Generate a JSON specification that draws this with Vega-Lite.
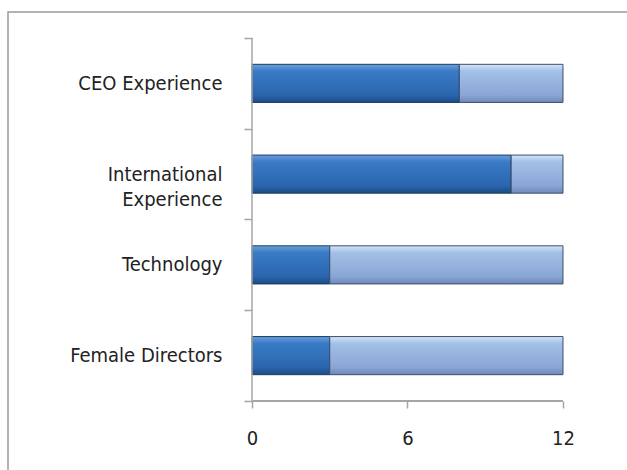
{
  "$schema": "https://vega.github.io/schema/vega-lite/v6.json",
  "autosize": "none",
  "width": 632,
  "height": 468,
  "padding": {"left": 8, "top": 12, "right": -13, "bottom": -10},
  "background": "white",
  "config": {
    "view": {"stroke": "#9a9a9a", "strokeWidth": 1.5},
    "font": "DejaVu Sans Condensed, Liberation Sans, sans-serif",
    "axis": {"labelFont": "DejaVu Sans Condensed, Liberation Sans, sans-serif", "labelColor": "#222222", "domain": false, "tickColor": "#a6a6a6", "tickWidth": 1.5, "grid": false, "title": null}
  },
  "data": {
    "values": [
      {"category": "CEO Experience", "yes": 8, "total": 12},
      {"category": "International Experience", "yes": 10, "total": 12},
      {"category": "Technology", "yes": 3, "total": 12},
      {"category": "Female Directors", "yes": 3, "total": 12}
    ]
  },
  "encoding": {
    "y": {
      "field": "category",
      "type": "nominal",
      "sort": ["CEO Experience", "International Experience", "Technology", "Female Directors"],
      "scale": {"paddingInner": 0, "paddingOuter": 0.5785, "align": 0.2476},
      "axis": {
        "offset": -244,
        "labelFontSize": 20,
        "labelPadding": 22,
        "tickSize": 8,
        "tickBand": "extent",
        "labelLineHeight": 25,
        "labelExpr": "datum.value == 'International Experience' ? ['International', 'Experience'] : datum.label"
      }
    }
  },
  "layer": [
    {
      "mark": {
        "type": "bar",
        "height": {"band": 0.42},
        "stroke": "#1f3a5c",
        "strokeWidth": 1,
        "color": {"gradient": "linear", "x1": 0, "y1": 0, "x2": 0, "y2": 1, "stops": [
          {"offset": 0, "color": "#6aa0dc"},
          {"offset": 0.18, "color": "#3a7bc6"},
          {"offset": 0.8, "color": "#2a66ae"},
          {"offset": 1, "color": "#1c4b86"}
        ]}
      },
      "encoding": {
        "x": {
          "field": "yes",
          "type": "quantitative",
          "scale": {"domain": [-9.4148, 14.9711], "nice": false, "zero": false},
          "axis": {"values": [0, 6, 12], "offset": -79, "labelFontSize": 20, "labelPadding": 20, "tickSize": 7, "labelFlush": false}
        }
      }
    },
    {
      "mark": {
        "type": "bar",
        "height": {"band": 0.42},
        "stroke": "#3b4f6e",
        "strokeWidth": 1,
        "color": {"gradient": "linear", "x1": 0, "y1": 0, "x2": 0, "y2": 1, "stops": [
          {"offset": 0, "color": "#d2e6f8"},
          {"offset": 0.18, "color": "#a3c0e6"},
          {"offset": 0.8, "color": "#8aa6d6"},
          {"offset": 1, "color": "#6f89b8"}
        ]}
      },
      "encoding": {
        "x": {"field": "yes", "type": "quantitative"},
        "x2": {"field": "total"}
      }
    },
    {
      "mark": {"type": "bar", "height": {"band": 1}, "fill": null, "fillOpacity": 0, "stroke": "#a6a6a6", "strokeWidth": 1.5},
      "encoding": {
        "x": {"datum": 0, "type": "quantitative"},
        "x2": {"datum": 0}
      }
    },
    {
      "mark": {"type": "rule", "color": "#a6a6a6", "strokeWidth": 1.5},
      "encoding": {
        "x": {"datum": 0, "type": "quantitative"},
        "x2": {"datum": 12},
        "y": {"datum": "Female Directors", "bandPosition": 1}
      }
    }
  ]
}
